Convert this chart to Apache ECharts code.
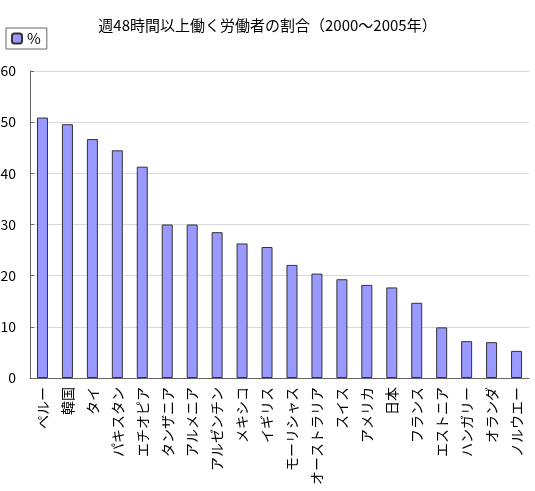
<!DOCTYPE html>
<html>
<head>
<meta charset="utf-8">
<script src="https://cdn.jsdelivr.net/npm/echarts@6/dist/echarts.min.js"></script>
<style>
html, body { margin: 0; padding: 0; background: #fff; }
#chart { width: 535px; height: 491px; }
</style>
</head>
<body>
<div id="chart"></div>
<script>
// 国名と割合(%)
let countries = ['ペルー', '韓国', 'タイ', 'パキスタン', 'エチオピア', 'タンザニア', 'アルメニア', 'アルゼンチン', 'メキシコ', 'イギリス',
  'モーリシャス', 'オーストラリア', 'スイス', 'アメリカ', '日本', 'フランス', 'エストニア', 'ハンガリー', 'オランダ', 'ノルウエー']
let percents = [50.9, 49.6, 46.7, 44.5, 41.3, 30.0, 30.0, 28.5, 26.3, 25.6,
  22.1, 20.4, 19.3, 18.2, 17.7, 14.7, 9.9, 7.2, 7.0, 5.3]
let yTicks = [0, 10, 20, 30, 40, 50, 60]

let font = '"Noto Sans CJK JP", "Noto Sans", sans-serif'

let setChart = function(ele, options) {
  let myChart = echarts.init(ele)
  myChart.setOption(options)
  return myChart
}

setChart(document.getElementById('chart'), {
  animation: false,
  title: {
    text: '週48時間以上働く労働者の割合（2000～2005年）',
    left: 'center',
    top: 13,
    textStyle: { fontFamily: font, fontSize: 15, fontWeight: 'normal', color: '#000' }
  },
  legend: {
    left: 6,
    top: 28,
    itemWidth: 10,
    itemHeight: 10,
    itemGap: 5,
    padding: [3, 6, 3, 5],
    borderColor: '#666',
    borderWidth: 1,
    textStyle: { fontFamily: font, fontSize: 15, color: '#000' },
    data: ['%']
  },
  grid: { left: 30, right: 6, top: 71, bottom: 113, containLabel: false, outerBoundsMode: 'none' },
  xAxis: {
    type: 'category',
    data: countries,
    axisLine: { lineStyle: { color: '#666' } },
    axisTick: { inside: true, length: 5, lineStyle: { color: '#666' } },
    axisLabel: {
      rotate: 90,
      interval: 0,
      margin: 9,
      fontFamily: font,
      fontSize: 14,
      color: '#000'
    }
  },
  yAxis: {
    type: 'value',
    min: yTicks[0],
    max: yTicks[yTicks.length - 1],
    interval: 10,
    axisLine: { show: true, lineStyle: { color: '#666' } },
    axisTick: { show: true, inside: true, length: 4, lineStyle: { color: '#666' } },
    axisLabel: { margin: 14, fontFamily: font, fontSize: 14, color: '#000' },
    splitLine: { lineStyle: { color: '#d9d9d9' } }
  },
  series: [{
    name: '%',
    type: 'bar',
    data: percents,
    barWidth: 11,
    itemStyle: { color: '#9999ff', borderColor: '#333', borderWidth: 1 }
  }]
})
</script>
</body>
</html>
